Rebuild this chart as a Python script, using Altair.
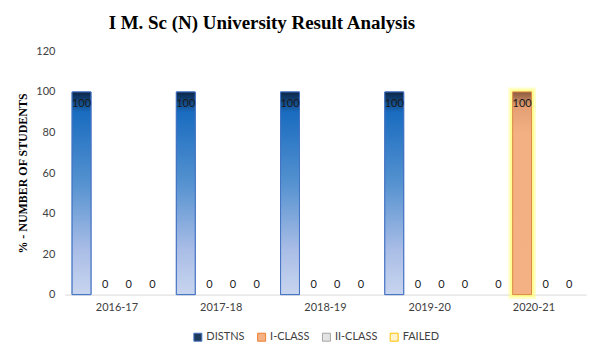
import altair as alt
import pandas as pd

years = ["2016-17", "2017-18", "2018-19", "2019-20", "2020-21"]
series = ["DISTNS", "I-CLASS", "II-CLASS", "FAILED"]
distns = [100, 100, 100, 100, 0]
i_class = [0, 0, 0, 0, 100]
ii_class = [0, 0, 0, 0, 0]
failed = [0, 0, 0, 0, 0]

legend_fill = ["#1e3a5c", "#f4b183", "#e3e3e3", "#fff2cc"]
legend_stroke = ["#4472c4", "#ed7d31", "#a5a5a5", "#ffc000"]

rows = []
for s, vals in zip(series, [distns, i_class, ii_class, failed]):
    for y, v in zip(years, vals):
        rows.append({"year": y, "series": s, "value": v})
df = pd.DataFrame(rows)

LF = "Lato"

blue_grad = alt.Gradient(
    gradient="linear", x1=0, x2=0, y1=0, y2=1,
    stops=[
        alt.GradientStop(color="#0b2545", offset=0),
        alt.GradientStop(color="#1a6cc0", offset=0.1),
        alt.GradientStop(color="#5592d0", offset=0.45),
        alt.GradientStop(color="#a9bde6", offset=0.78),
        alt.GradientStop(color="#c8d5ef", offset=1),
    ],
)
orange_grad = alt.Gradient(
    gradient="linear", x1=0, x2=0, y1=0, y2=1,
    stops=[
        alt.GradientStop(color="#8a5a3e", offset=0),
        alt.GradientStop(color="#e39f73", offset=0.07),
        alt.GradientStop(color="#f2b083", offset=0.2),
        alt.GradientStop(color="#f4b183", offset=1),
    ],
)

base = alt.Chart(df).encode(
    x=alt.X(
        "year:N",
        sort=years,
        title=None,
        scale=alt.Scale(paddingInner=0.14, paddingOuter=0.07),
        axis=alt.Axis(
            labelAngle=0, ticks=False, domainColor="#d9d9d9", labelFont=LF,
            labelFontSize=11, labelColor="#404040", labelPadding=7, grid=False,
        ),
    ),
    xOffset=alt.XOffset("series:N", sort=series, scale=alt.Scale(domain=series, paddingInner=0.2)),
    y=alt.Y(
        "value:Q",
        scale=alt.Scale(domain=[0, 120]),
        title="% - NUMBER OF STUDENTS",
        axis=alt.Axis(
            values=[0, 20, 40, 60, 80, 100, 120], domain=False, ticks=False, grid=False,
            labelFont=LF, labelFontSize=11, labelColor="#404040", labelPadding=10,
            titleFont="Liberation Serif", titleFontSize=12, titleFontWeight="bold",
            titleColor="#000000", titlePadding=6,
        ),
    ),
)

leg = dict(
    title=None, orient="none", legendX=128, legendY=281, direction="horizontal",
    symbolType="square", symbolSize=64, symbolStrokeWidth=1, labelFont=LF,
    labelFontSize=11, labelColor="#404040", columnPadding=10, labelOffset=3,
)

legend_layer = base.mark_bar(strokeWidth=1).encode(
    fill=alt.Fill("series:N", scale=alt.Scale(domain=series, range=legend_fill), legend=alt.Legend(**leg)),
    stroke=alt.Stroke("series:N", scale=alt.Scale(domain=series, range=legend_stroke), legend=alt.Legend(**leg)),
).transform_filter("datum.value > 0")

glow_outer = base.mark_bar(fill="#ffff99", stroke="#ffff66", strokeWidth=9, strokeOpacity=0.35).transform_filter(
    "datum.series == 'I-CLASS' && datum.value > 0"
)
glow_inner = base.mark_bar(fill="#ffff99", stroke="#ffff80", strokeWidth=5, strokeOpacity=0.7).transform_filter(
    "datum.series == 'I-CLASS' && datum.value > 0"
)
blue_bars = base.mark_bar(fill=blue_grad, stroke="#4472c4", strokeWidth=1).transform_filter(
    "datum.series == 'DISTNS' && datum.value > 0"
)
orange_bars = base.mark_bar(fill=orange_grad, stroke="#dc8a45", strokeWidth=1).transform_filter(
    "datum.series == 'I-CLASS' && datum.value > 0"
)

txt_top = base.mark_text(baseline="top", dy=6, font=LF, fontSize=11, color="#1a1a1a").encode(
    text="value:Q"
).transform_filter("datum.value > 0")
txt_zero = base.mark_text(baseline="alphabetic", dy=-7, font=LF, fontSize=11, color="#1a1a1a").encode(
    text="value:Q"
).transform_filter("datum.value == 0")

chart = alt.layer(legend_layer, glow_outer, glow_inner, blue_bars, orange_bars, txt_top, txt_zero).properties(
    width=523,
    height=244,
    padding={"left": 8, "top": 5, "right": 5, "bottom": 5},
    title=alt.TitleParams(
        "I M. Sc (N) University Result Analysis",
        font="Liberation Serif", fontSize=19, fontWeight="bold", color="#000000",
        anchor="start", frame="group", dx=44, offset=13,
    ),
).configure_view(stroke=None)

chart.save("out.html", embed_options={"renderer": "svg", "actions": False})
